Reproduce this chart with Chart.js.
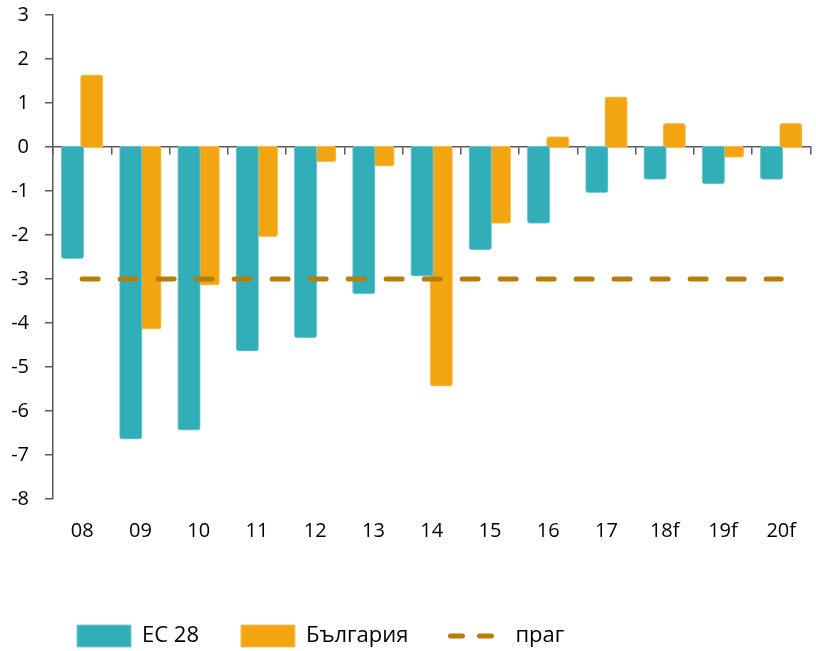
<!DOCTYPE html>
<html>
<head>
<meta charset="utf-8">
<script src="https://cdn.jsdelivr.net/npm/chart.js@4.4.1/dist/chart.umd.min.js"></script>
<style>
  html, body { margin: 0; padding: 0; background: #fff; }
  #wrap { width: 816px; height: 651px; }
</style>
</head>
<body>
<div id="wrap"><canvas id="chart" width="816" height="651"></canvas></div>
<script>
// years (f = forecast)
const years = ['08', '09', '10', '11', '12', '13', '14', '15', '16', '17', '18f', '19f', '20f'];
const eu28 = [-2.5, -6.6, -6.4, -4.6, -4.3, -3.3, -2.9, -2.3, -1.7, -1.0, -0.7, -0.8, -0.7];
const bulgaria = [1.6, -4.1, -3.1, -2.0, -0.3, -0.4, -5.4, -1.7, 0.2, 1.1, 0.5, -0.2, 0.5];
const threshold = [-3, -3, -3, -3, -3, -3, -3, -3, -3, -3, -3, -3, -3];
const yTicks = [-8, -7, -6, -5, -4, -3, -2, -1, 0, 1, 2, 3];

const fontFamily = "'Open Sans', 'Noto Sans', sans-serif";
const axisGrey = '#595959';

// move the legend row to the right, the y axis keeps its full width
const legendShift = {
    id: 'legendShift',
    afterLayout(chart) {
        chart.legend.left = 35;
    }
};

const ctx = document.getElementById('chart').getContext('2d');
const chart = new Chart(ctx, {
    type: 'bar',
    data: {
        labels: years,
        datasets: [{
            label: 'ЕС 28',
            data: eu28,
            backgroundColor: '#32aeb8',
            borderColor: '#7ccbd1',
            xAxisID: 'x'
        }, {
            label: 'България',
            data: bulgaria,
            backgroundColor: '#f2a511',
            borderColor: '#f7c765',
            xAxisID: 'x'
        }, {
            type: 'line',
            label: 'праг',
            data: threshold,
            borderColor: '#b77d0b',
            borderWidth: 5,
            borderDash: [16, 22],
            borderCapStyle: 'round',
            pointRadius: 0,
            fill: false,
            order: -1, // draw over the bars
            xAxisID: 'x'
        }]
    },
    options: {
        responsive: false,
        animation: false,
        datasets: {
            bar: {
                categoryPercentage: 0.66,
                barPercentage: 1.0,
                borderWidth: 1,
                borderRadius: 3,
                borderSkipped: false,
                inflateAmount: 2 // excel-like overhang past the value
            }
        },
        layout: {
            padding: { left: 0, right: 0, top: 0, bottom: -6 }
        },
        scales: {
            // axis drawn on the zero line, only tick marks
            x: {
                type: 'category',
                position: { y: 0 },
                offset: true,
                grid: {
                    offset: true,
                    drawOnChartArea: false,
                    drawTicks: true,
                    tickLength: 7,
                    color: axisGrey,
                    lineWidth: 1.5
                },
                border: { color: axisGrey, width: 1.5 },
                ticks: { display: false }
            },
            // labels at the bottom
            x2: {
                type: 'category',
                labels: years,
                position: 'bottom',
                offset: true,
                grid: { display: false, drawTicks: false },
                border: { display: false },
                ticks: {
                    color: '#000',
                    padding: 20,
                    maxRotation: 0,
                    font: { family: fontFamily, size: 20 }
                },
                afterFit: scale => { scale.height = 84; }
            },
            y: {
                min: -8,
                max: 3,
                afterBuildTicks: scale => {
                    scale.ticks = yTicks.map(v => ({ value: v }));
                },
                grid: {
                    drawOnChartArea: false,
                    drawTicks: true,
                    tickLength: 8,
                    color: axisGrey,
                    lineWidth: 1.5
                },
                border: { color: axisGrey, width: 1.5 },
                ticks: {
                    color: '#000',
                    padding: 16,
                    font: { family: fontFamily, size: 20 }
                },
                afterFit: scale => {
                    scale.width = 53;
                    scale.paddingTop = 15;
                }
            }
        },
        plugins: {
            tooltip: { enabled: false },
            legend: {
                position: 'bottom',
                align: 'start',
                labels: {
                    usePointStyle: true,
                    pointStyleWidth: 54,
                    boxWidth: 54,
                    boxHeight: 22,
                    padding: 42,
                    color: '#000',
                    font: { family: fontFamily, size: 22 },
                    sort: (a, b) => a.datasetIndex - b.datasetIndex,
                    generateLabels: function(chart) {
                        const items = Chart.defaults.plugins.legend.labels.generateLabels(chart);
                        items.forEach(it => {
                            if (it.datasetIndex === 2) {
                                it.pointStyle = 'line';
                                it.lineDash = [12, 17];
                                it.lineWidth = 5;
                                it.lineCap = 'round';
                            } else {
                                it.pointStyle = 'rect';
                            }
                        });
                        return items;
                    }
                }
            }
        }
    },
    plugins: [legendShift]
});
</script>
</body>
</html>
